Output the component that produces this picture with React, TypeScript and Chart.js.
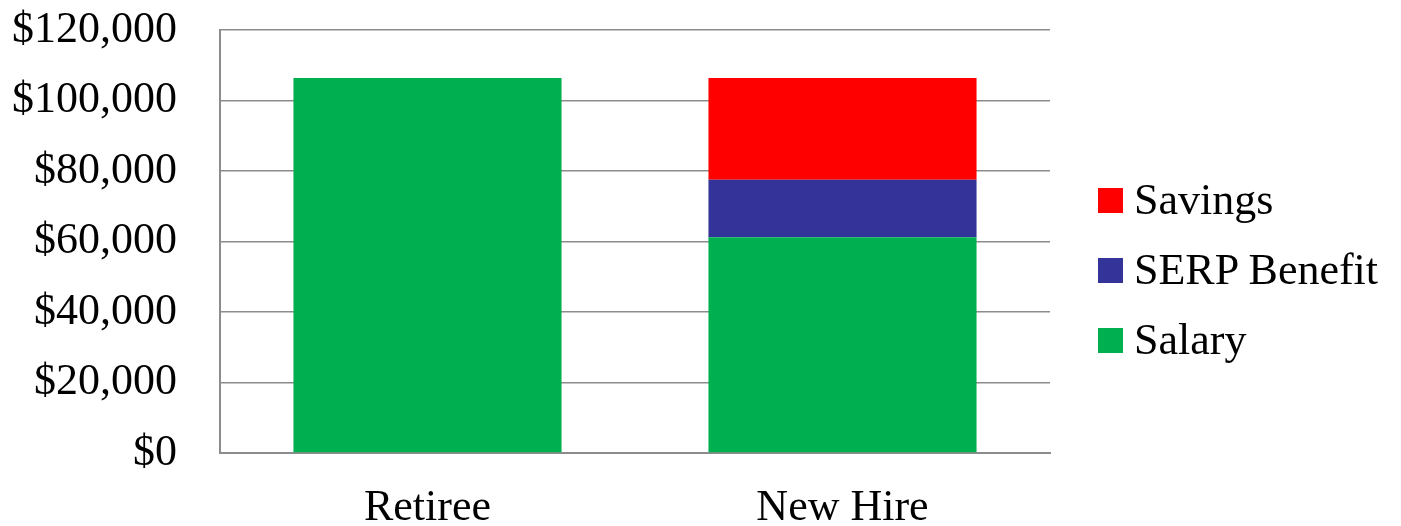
import React, { useEffect, useRef } from 'react';
import { Chart, registerables } from 'chart.js';

Chart.register(...registerables);

const categories = ['Retiree', 'New Hire'];
const seriesNames = ['Salary', 'SERP Benefit', 'Savings'];
const salary = [106400, 61200];
const serpBenefit = [0, 16300];
const savings = [0, 28900];
const seriesColors = ['#00B050', '#333399', '#FF0000'];
const yMax = 120000;
const yStep = 20000;

const FONT = "'Liberation Serif', 'Times New Roman', serif";

export default function App() {
  const canvasRef = useRef<HTMLCanvasElement | null>(null);

  useEffect(() => {
    if (!canvasRef.current) return;
    const values = [salary, serpBenefit, savings];
    const chart = new Chart(canvasRef.current, {
      type: 'bar',
      data: {
        labels: categories,
        datasets: seriesNames.map((name, i) => ({
          label: name,
          data: values[i],
          backgroundColor: seriesColors[i],
          borderWidth: 0,
          barPercentage: 0.646,
          categoryPercentage: 1,
        })),
      },
      options: {
        animation: false,
        responsive: true,
        maintainAspectRatio: false,
        layout: { padding: { left: 0, right: 351, top: 0, bottom: 0 } },
        plugins: {
          legend: { display: false },
          tooltip: { enabled: false },
        },
        scales: {
          x: {
            stacked: true,
            grid: { display: false, drawTicks: false },
            border: { display: true, color: '#8c8c8c', width: 2 },
            ticks: {
              color: '#000',
              padding: 33,
              font: { family: FONT, size: 44, lineHeight: 1 },
            },
            afterFit: (scale: any) => {
              scale.height = 73;
              scale.paddingLeft = 0;
              scale.paddingRight = 0;
            },
          },
          y: {
            stacked: true,
            min: 0,
            max: yMax,
            grid: { color: '#8c8c8c', lineWidth: 1.5, drawTicks: false },
            border: { display: true, color: '#8c8c8c', width: 2 },
            ticks: {
              stepSize: yStep,
              color: '#000',
              padding: 43,
              font: { family: FONT, size: 44, lineHeight: 1 },
              callback: (v: any) => '$' + Number(v).toLocaleString('en-US'),
            },
            afterFit: (scale: any) => {
              scale.width = 220;
              scale.paddingTop = 30;
              scale.paddingBottom = 0;
            },
          },
        },
      },
    });
    return () => chart.destroy();
  }, []);

  const legendOrder = [2, 1, 0];

  return (
    <div style={{ position: 'fixed', left: 0, top: 0, width: 1401, height: 526, background: '#fff' }}>
      <canvas ref={canvasRef} />
      <div style={{ position: 'absolute', left: 1098, top: 165, fontFamily: FONT, fontSize: 44, color: '#000' }}>
        {legendOrder.map((i) => (
          <div key={seriesNames[i]} style={{ display: 'flex', alignItems: 'center', height: 70, whiteSpace: 'nowrap' }}>
            <span style={{ display: 'inline-block', width: 25, height: 25, background: seriesColors[i], marginRight: 11 }} />
            <span style={{ lineHeight: 1 }}>{seriesNames[i]}</span>
          </div>
        ))}
      </div>
    </div>
  );
}
